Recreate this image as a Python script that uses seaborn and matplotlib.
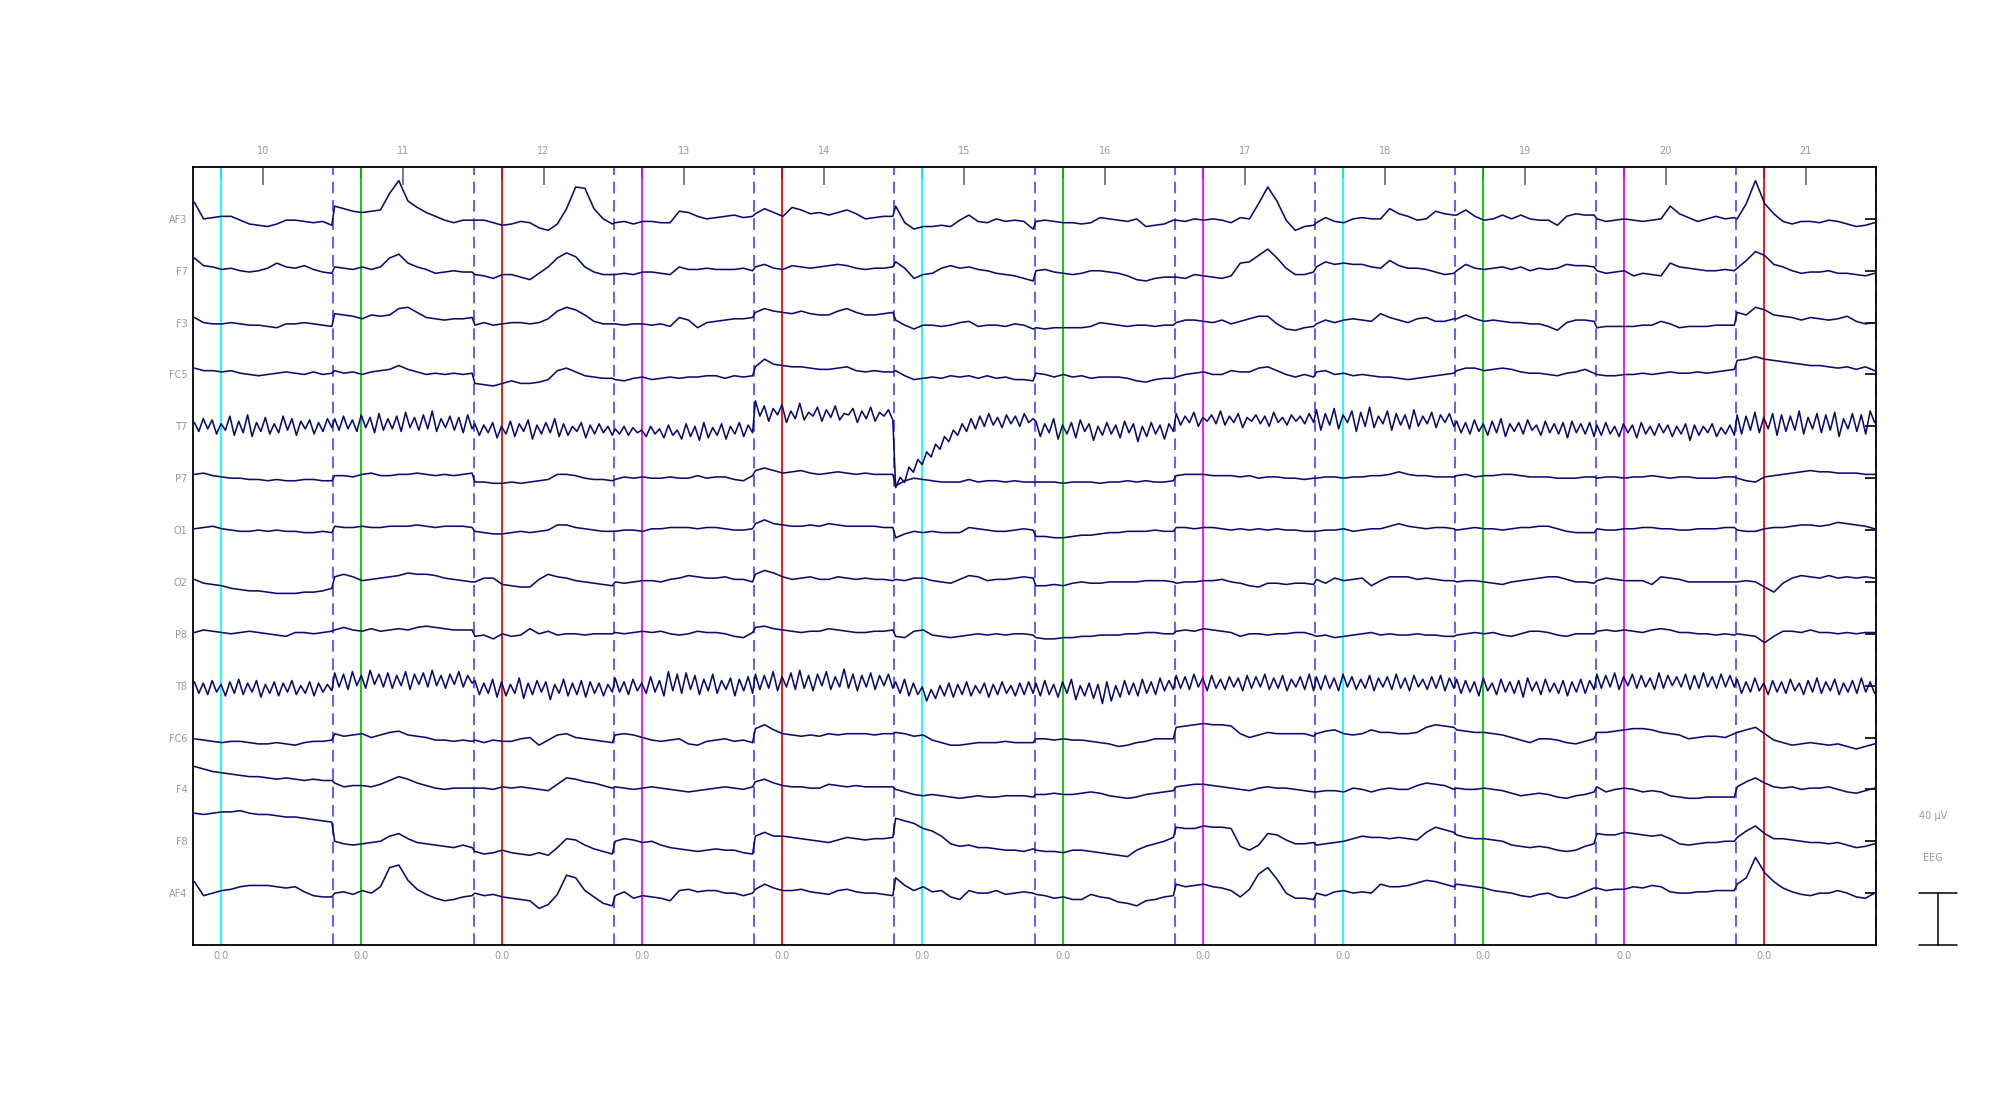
import numpy as np
import pandas as pd
import matplotlib
matplotlib.use("Agg")
import matplotlib.pyplot as plt
import seaborn as sns

# epoch plot: 14 channels x 12 epochs (values = offset from channel baseline)
CHANNELS = ["AF3", "F7", "F3", "FC5", "T7", "P7", "O1",
            "O2", "P8", "T8", "FC6", "F4", "F8", "AF4"]
EPOCH_LABELS = ["10", "11", "12", "13", "14", "15", "16", "17", "18", "19", "20", "21"]
EVENT_IDS = [1, 2, 3, 4, 3, 1, 2, 4, 1, 2, 4, 3]
EVENT_TICK_LABEL = "0.0"
TMIN, TMAX = -0.2, 0.8
SCALE_TEXT = ["40 µV", "EEG"]

AF3 = [
    [13, 0, 1, 2, 2, -1, -4, -5, -6, -4, -1, -1, -2, -3, -2, -5],
    [10, 8, 6, 5, 6, 7, 20, 30, 14, 9, 5, 2, -1, -3, -1, -1],
    [-1, -1, -3, -5, -4, -2, -3, -7, -9, -4, 8, 25, 24, 8, 0, -4],
    [-3, -2, -4, -2, -2, -3, -3, 6, 5, 2, 0, 1, 2, 3, 1, 2],
    [4, 8, 5, 2, 9, 7, 4, 5, 3, 5, 7, 4, 0, 1, 2, 2],
    [10, -3, -8, -6, -6, -5, -6, -1, 3, -2, -3, 0, -2, -1, -2, -8],
    [-2, -1, -2, -3, -3, -4, -3, 1, 0, -1, -2, 0, -6, -5, -4, -1],
    [-1, -2, 0, -1, 0, -1, -3, 1, 0, 12, 25, 14, -1, -9, -6, -5],
    [-3, 1, -2, -3, 0, 1, 0, 0, 8, 4, 2, -1, 0, 6, 4, 3],
    [3, 7, 2, -1, 0, 3, 0, 3, 0, -1, -1, -5, 2, 4, 3, 3],
    [0, -2, -1, 0, -1, -2, -1, 0, 10, 4, 1, -2, 0, 2, 0, 1],
    [0, 12, 30, 12, 4, -2, -4, -2, -2, -3, -1, -2, -4, -6, -5, -3],
]
F7 = [
    [10, 4, 3, 1, 2, 0, -1, 0, 2, 6, 3, 2, 4, 1, -1, -2],
    [3, 2, 1, 3, 1, 3, 10, 13, 6, 3, 1, -2, -1, 0, -1, -1],
    [-3, -4, -6, -3, -3, -5, -7, -2, 3, 10, 14, 11, 3, -1, -3, -3],
    [-3, -2, -3, -1, -1, -2, -3, 3, 1, 1, 2, 1, 1, 1, 2, 0],
    [3, 5, 2, 1, 4, 3, 2, 3, 4, 5, 4, 2, 1, 2, 2, 3],
    [7, 2, -6, -3, -2, 2, 4, 2, 3, 1, 0, -2, -3, -4, -6, -8],
    [0, 1, -1, -2, -3, -2, 0, 0, -1, -2, -4, -7, -8, -6, -5, -5],
    [-5, -6, -3, -4, -5, -6, -4, 6, 7, 12, 17, 10, 2, -3, -3, -1],
    [3, 7, 5, 6, 5, 5, 3, 2, 8, 4, 2, 2, 1, -1, -3, -2],
    [0, 5, 2, 1, 2, 3, 1, 3, 0, 2, 1, 2, 5, 4, 4, 3],
    [0, -2, -1, 0, -4, -2, -3, -4, 6, 3, 2, 1, 0, 0, 1, 0],
    [2, 8, 15, 12, 5, 3, 0, -2, -1, -1, 0, -2, -2, -3, -4, -2],
]
F3 = [
    [4, 0, -1, -1, 0, -1, -2, -2, -3, -4, -1, -1, 0, -1, -2, -3],
    [7, 6, 5, 3, 6, 5, 6, 11, 12, 8, 4, 3, 2, 3, 3, 4],
    [-2, 0, -2, -1, 0, 0, -1, 0, 3, 9, 12, 10, 6, 1, -1, -1],
    [-1, -2, -1, -1, -2, -1, -3, 4, 2, -4, 0, 1, 2, 3, 3, 4],
    [8, 11, 9, 8, 7, 9, 7, 6, 6, 9, 11, 8, 6, 6, 7, 8],
    [2, -2, -5, -2, -2, -3, -2, 0, 1, -3, -2, -2, -3, -1, -2, -5],
    [-4, -5, -4, -4, -4, -4, -3, 0, -1, -2, -3, -2, -2, -3, -2, -2],
    [0, 2, 2, 1, 0, 2, -1, 1, 3, 5, 5, -1, -5, -6, -4, -3],
    [-1, 2, 0, 2, 3, 2, 1, 7, 4, 2, 0, 3, 4, 1, 1, 3],
    [3, 6, 3, 1, 2, 1, 0, 0, -1, -1, -3, -6, 0, 2, 2, 1],
    [-4, -3, -3, -3, -3, -2, -2, 1, -1, -4, -3, -3, -3, -2, -2, -2],
    [8, 6, 12, 10, 6, 5, 4, 2, 4, 3, 2, 3, 5, 1, -1, 0],
]
FC5 = [
    [5, 3, 3, 2, 3, 1, 0, -1, 0, 1, 2, 1, 0, 2, 0, 1],
    [3, 1, 2, 0, 2, 3, 4, 7, 4, 2, 0, 1, 0, 1, 0, 1],
    [-7, -8, -9, -7, -5, -7, -7, -6, -4, 3, 5, 2, -1, -2, -3, -3],
    [-4, -5, -3, -2, -4, -3, -2, -3, -2, -2, -1, -1, -3, -1, -2, -1],
    [6, 12, 8, 7, 6, 6, 5, 4, 4, 5, 6, 3, 2, 3, 2, 2],
    [3, -1, -4, -3, -2, -3, -1, -2, -1, -3, -1, -3, -2, -4, -4, -5],
    [1, 0, -2, 0, -2, -1, -3, -2, -2, -2, -3, -5, -6, -4, -3, -3],
    [-2, 0, 1, 2, 0, 0, 3, 2, 2, 5, 6, 3, 0, -2, 0, -2],
    [2, 3, 0, 1, -1, 0, -1, -2, -2, -3, -4, -3, -2, -1, 0, 1],
    [3, 5, 5, 3, 4, 5, 4, 2, 1, 1, 0, -1, 1, 2, 4, 1],
    [0, -1, -1, 0, 0, 1, 0, 1, 2, 1, 1, 2, 1, 2, 3, 4],
    [11, 12, 14, 12, 11, 10, 9, 8, 7, 7, 6, 5, 6, 4, 6, 3],
]
T7 = [
    [3, -4, 6, -2, 5, -6, 2, -3, 8, -7, 4, -5, 9, -8, 3, -4, 7, -6, 2, -5, 8, -3, 6, -7, 4, -2, 5, -6, 3, -4, 6, -1],
    [6, -3, 8, -2, 5, -4, 9, -1, 7, -5, 10, -3, 6, -2, 8, -4, 11, -1, 7, -3, 9, -2, 12, -4, 6, -1, 8, -3, 7, -5, 9, -2],
    [2, -7, 1, -5, 3, -9, 0, -6, 4, -8, 2, -4, 5, -10, 1, -6, 3, -5, 6, -8, 2, -7, 0, -4, 3, -9, 1, -6, 2, -5, 0, -7],
    [-2, -6, 0, -7, -1, -5, -3, -8, 0, -6, -2, -9, 1, -7, -3, -10, 2, -8, 0, -11, 3, -9, -1, -7, 2, -10, 0, -6, 3, -8, 1, -5],
    [20, 8, 16, 4, 14, 9, 17, 3, 12, 6, 18, 5, 11, 8, 15, 4, 13, 7, 16, 5, 10, 9, 14, 3, 12, 6, 15, 4, 11, 8, 13, 5],
    [-48, -40, -44, -32, -36, -26, -30, -20, -24, -14, -18, -8, -12, -3, -7, 2, -4, 6, -2, 8, 0, 10, 1, 7, -1, 9, 2, 8, 0, 10, 3, 6],
    [4, -8, 2, -5, 6, -10, 1, -6, 3, -9, 5, -4, 2, -11, 0, -7, 3, -6, 1, -9, 4, -5, 2, -12, 0, -8, 3, -6, 1, -10, 2, -4],
    [10, 1, 8, 3, 11, 0, 7, 4, 9, 2, 12, 1, 8, 3, 10, -1, 7, 4, 9, 2, 8, 0, 11, 3, 7, 1, 9, 4, 8, 2, 10, 3],
    [13, -3, 10, 1, 14, -2, 9, 3, 12, -4, 11, 0, 15, -1, 8, 2, 12, -3, 10, 1, 9, -2, 13, 0, 8, 2, 11, -1, 9, 3, 10, 0],
    [4, -5, 3, -6, 5, -4, 2, -7, 4, -5, 6, -8, 2, -4, 3, -6, 5, -3, 1, -7, 4, -5, 2, -6, 3, -9, 4, -5, 2, -6, 3, -8],
    [1, -7, 3, -6, 0, -8, 2, -5, 1, -9, 3, -6, 0, -7, 2, -5, 1, -8, 0, -6, 2, -11, 1, -7, 0, -5, 2, -8, -1, -6, 1, -7],
    [9, -6, 8, -3, 11, -5, 7, -2, 10, -7, 9, -4, 8, -3, 12, -6, 7, -2, 10, -5, 9, -3, 11, -8, 6, -2, 10, -4, 9, -6, 12, 3],
]
P7 = [
    [3, 4, 2, 1, 0, 0, -1, -1, -2, -1, -2, -2, -1, -1, -2, -2],
    [2, 2, 1, 3, 4, 2, 2, 3, 3, 4, 3, 2, 3, 2, 3, 4],
    [-3, -3, -4, -4, -3, -4, -3, -2, -1, 3, 3, 2, 0, -1, -1, -2],
    [-1, 1, 0, 1, 0, 0, 1, 0, 0, 2, 0, 1, 1, -1, -2, 2],
    [6, 8, 6, 4, 5, 6, 4, 3, 4, 5, 4, 3, 4, 3, 3, 3],
    [-6, -2, 0, -1, -2, -3, -3, -3, -1, -3, -2, -2, -3, -2, -3, -3],
    [-3, -3, -3, -4, -3, -3, -3, -4, -3, -3, -2, -3, -2, -3, -3, -2],
    [2, 3, 3, 3, 2, 2, 2, 1, 2, 0, 1, 1, 0, 0, -1, 0],
    [0, 1, 1, 0, 1, 1, 2, 2, 3, 5, 3, 2, 2, 1, 1, 1],
    [2, 3, 1, 2, 2, 3, 3, 2, 1, 1, 1, 0, 0, 0, 1, 1],
    [0, 1, 1, 0, 1, 1, 2, 1, 0, 1, 1, 0, 0, 0, 1, 1],
    [0, -2, -3, 1, 2, 3, 4, 5, 6, 5, 5, 4, 4, 4, 3, 3],
]
O1 = [
    [1, 2, 3, 1, 0, -1, -1, 0, -1, 0, -1, -1, -2, -2, -1, -2],
    [3, 2, 2, 3, 2, 2, 3, 3, 3, 4, 3, 2, 3, 3, 3, 2],
    [-1, -2, -3, -3, -2, -1, -2, -1, 0, 4, 4, 2, 1, 0, -1, -1],
    [-1, 0, 0, -1, 1, 1, 2, 2, 2, 1, 2, 2, 1, 0, 0, 1],
    [5, 8, 5, 4, 3, 3, 4, 3, 5, 4, 3, 3, 3, 3, 2, 2],
    [-6, -3, -1, -2, -1, -2, -2, -2, 2, 1, 0, -1, -1, 0, 1, 0],
    [-5, -5, -6, -6, -5, -4, -4, -3, -2, -2, -1, -1, -1, 0, -1, -1],
    [2, 2, 1, 2, 2, 1, 0, 1, 0, 1, 0, 1, 0, 0, -1, -1],
    [-1, 0, 0, 1, -1, 0, 1, 1, 3, 5, 3, 2, 1, 2, 2, 1],
    [0, 1, 2, 1, 1, 0, 1, 2, 2, 3, 3, 1, -1, -2, -2, -2],
    [1, 0, 0, 1, 1, 2, 2, 1, 1, 0, 0, 1, 1, 1, 2, 2],
    [0, -1, -1, 1, 2, 2, 3, 4, 4, 3, 4, 6, 5, 4, 3, 1],
]
O2 = [
    [2, -1, -2, -3, -5, -6, -7, -7, -8, -9, -9, -9, -8, -8, -7, -5],
    [4, 6, 4, 1, 2, 3, 4, 5, 7, 6, 6, 5, 3, 2, 1, 0],
    [0, 3, 3, -2, -3, -4, -4, 2, 6, 4, 3, 1, 0, -1, -2, -3],
    [0, -1, 0, 1, 1, 0, 2, 3, 5, 4, 3, 3, 4, 2, 2, 0],
    [6, 9, 7, 4, 2, 3, 4, 2, 2, 4, 3, 2, 3, 2, 2, 1],
    [2, 1, 3, 3, 1, 0, -1, 2, 5, 4, 1, 2, 2, 3, 4, 3],
    [-3, -3, -2, -3, -1, 0, -1, -1, 0, 0, 0, 0, 1, 1, 1, 0],
    [-1, 0, 0, 1, 1, 2, 0, -1, -3, -4, -1, -1, -2, -1, -1, -2],
    [2, -1, 3, 1, 2, 3, -3, 1, 4, 4, 4, 2, 3, 2, 1, 1],
    [0, 1, 1, 0, -1, -2, 0, 1, 2, 3, 4, 4, 2, 0, 0, -1],
    [1, 3, 2, 1, 1, 1, -2, 4, 3, 2, 0, 0, 0, 0, 0, 0],
    [0, 1, 0, -4, -8, -1, 3, 5, 4, 3, 5, 3, 4, 3, 4, 3],
]
P8 = [
    [1, 3, 2, 1, 0, 1, 2, 1, 0, -1, -2, 1, 1, 0, 1, 2],
    [3, 5, 3, 2, 4, 2, 3, 4, 3, 5, 6, 5, 4, 3, 3, 3],
    [-2, -1, -4, 0, -2, -1, 4, 0, 2, -1, 0, 0, -1, 0, 0, 0],
    [1, 0, 1, 2, 1, 2, 0, -1, 0, 2, 1, 1, 0, -2, -3, 1],
    [5, 6, 4, 3, 2, 1, 2, 2, 4, 3, 2, 1, 1, 2, 2, 3],
    [-2, -3, 2, 3, -1, -2, -3, -2, -1, 0, -1, 0, -1, 0, 0, -1],
    [-3, -4, -4, -3, -3, -2, -2, -1, -1, -1, 0, 0, 1, 1, 0, 0],
    [2, 3, 2, 4, 3, 2, 1, -2, 0, 0, -1, 0, 0, 1, 1, -1],
    [-2, -1, -3, -2, -1, 0, 1, -1, 0, -1, -1, 0, -1, -1, -2, -2],
    [-1, 0, 1, 0, 1, -1, -2, 0, 2, 2, 1, -1, -2, 0, 0, 0],
    [2, 3, 2, 3, 2, 1, 3, 4, 3, 1, 1, 0, 0, -1, 0, -1],
    [0, -1, -2, -7, -2, 2, 2, 1, 3, 1, 1, 0, 1, 0, 1, 1],
]
T8 = [
    [3, -6, 2, -7, 4, -5, 1, -8, 3, -6, 5, -7, 2, -5, 4, -9, 1, -6, 3, -8, 2, -5, 4, -7, 0, -6, 3, -8, 2, -5, 1, -4],
    [10, -1, 9, -3, 11, 0, 8, -2, 12, 1, 9, -1, 10, -2, 8, 0, 11, -3, 9, 1, 10, -1, 12, 0, 8, -2, 9, 1, 11, -1, 8, 2],
    [4, -7, 2, -6, 5, -9, 3, -8, 1, -6, 6, -10, 2, -7, 4, -5, 3, -11, 1, -6, 5, -8, 2, -7, 4, -9, 3, -6, 2, -8, 1, -5],
    [6, -5, 3, -7, 5, -4, 2, -6, 7, -5, 4, -8, 11, -4, 9, -6, 10, -3, 8, -7, 5, -4, 9, -6, 4, -3, 6, -8, 5, -4, 7, -6],
    [9, -3, 8, -2, 11, -4, 7, -1, 10, -3, 12, -2, 8, -4, 9, 0, 11, -3, 7, -1, 13, -2, 9, -4, 8, -1, 10, -3, 8, 0, 9, -2],
    [3, -6, 5, -8, 2, -7, -1, -12, -3, -10, 0, -8, 2, -9, 1, -7, 3, -8, 0, -6, 2, -9, 1, -7, 3, -6, 0, -8, 2, -7, 3, -6],
    [2, -8, 4, -7, 1, -9, 3, -6, 5, -11, 0, -8, 2, -10, 1, -14, 3, -12, 0, -9, 4, -7, 2, -8, 5, -6, 3, -7, 6, -4, 4, -3],
    [8, -2, 7, -3, 9, -1, 6, -4, 8, -2, 5, -3, 7, -1, 6, -4, 8, -2, 7, -1, 9, -3, 6, -2, 8, -4, 5, -1, 7, -3, 9, -4],
    [7, -3, 8, -2, 6, -4, 9, -1, 7, -3, 5, -2, 8, -4, 6, -1, 7, -3, 9, -2, 6, -4, 8, -1, 5, -3, 7, -2, 8, -4, 6, -2],
    [5, -6, 4, -5, 3, -8, 6, -4, 2, -7, 5, -5, 3, -6, 4, -9, 6, -4, 3, -7, 5, -5, 2, -6, 4, -8, 3, -5, 5, -6, 4, -3],
    [9, -2, 8, -1, 10, -3, 7, 0, 9, -2, 8, -1, 6, -3, 10, -2, 8, 0, 7, -1, 9, -3, 8, -2, 10, -1, 7, -2, 9, -1, 8, -1],
    [5, -6, 3, -5, 6, -4, 2, -7, 4, -5, 3, -6, 5, -4, 2, -7, 4, -5, 6, -6, 3, -4, 5, -7, 2, -5, 4, -6, 6, -5, 3, -6],
]
FC6 = [
    [-1, -2, -3, -4, -3, -3, -4, -5, -5, -4, -5, -6, -4, -3, -3, -2],
    [3, 1, 2, 3, 0, 2, 4, 5, 2, 1, 0, -2, -2, -3, -2, -3],
    [-2, -4, -2, -3, -3, -1, 0, -6, -2, 2, 3, 0, -1, -2, -3, -4],
    [2, 3, 2, 0, -2, -3, -2, -1, -5, -6, -3, -2, -1, -3, -2, -4],
    [7, 10, 6, 3, 2, 1, 2, 1, 3, 2, 3, 3, 3, 2, 3, 3],
    [4, 3, 1, 2, -2, -4, -6, -6, -5, -4, -4, -4, -3, -4, -4, -4],
    [-1, -1, -2, -1, -2, -2, -3, -4, -5, -7, -6, -4, -3, -1, -1, -1],
    [8, 9, 10, 11, 10, 10, 9, 3, 0, 2, 4, 3, 3, 3, 3, 1],
    [3, 5, 6, 3, 2, 3, 6, 4, 4, 3, 3, 4, 8, 10, 9, 8],
    [6, 5, 4, 4, 3, 2, 0, -2, -4, -1, -1, -2, -4, -5, -3, -1],
    [4, 4, 5, 6, 7, 7, 6, 4, 3, 2, -1, 0, 1, 1, 0, 3],
    [4, 6, 8, 3, -2, -4, -6, -5, -4, -5, -6, -5, -7, -9, -7, -5],
]
F4 = [
    [18, 16, 14, 13, 12, 11, 10, 10, 9, 8, 9, 8, 7, 8, 7, 7],
    [5, 2, 3, 3, 2, 4, 7, 10, 8, 5, 3, 1, 0, 1, 1, 1],
    [1, 1, 0, 2, 1, 2, 1, 0, -1, 4, 9, 8, 6, 5, 3, 1],
    [2, 1, 0, 1, 2, 1, 0, -1, -2, -1, 0, 1, 2, 1, 0, 2],
    [6, 8, 5, 3, 2, 2, 1, 1, 4, 3, 2, 3, 2, 2, 2, 2],
    [0, -2, -4, -5, -4, -5, -6, -7, -6, -5, -6, -6, -5, -5, -5, -6],
    [-4, -4, -3, -4, -4, -3, -2, -3, -5, -6, -7, -6, -4, -3, -2, -1],
    [2, 3, 4, 4, 3, 2, 1, 0, -1, 1, 2, 1, 1, 0, -1, -2],
    [-2, -1, -1, -2, 1, 0, -2, 0, 1, 0, 0, 3, 5, 4, 3, 0],
    [1, 0, 0, 1, 0, -1, -3, -5, -4, -3, -4, -6, -7, -5, -4, -2],
    [2, -2, 0, 1, 0, -2, -1, -2, -5, -6, -7, -7, -6, -6, -6, -6],
    [2, 6, 9, 5, 2, 1, 2, 0, 1, 1, 2, 0, -2, -3, -1, 1],
]
F8 = [
    [22, 21, 22, 23, 23, 24, 22, 21, 21, 20, 19, 19, 18, 17, 16, 15],
    [0, -2, -3, -2, -1, 0, 4, 6, 2, -1, -2, -3, -4, -5, -3, -5],
    [-8, -10, -9, -7, -9, -10, -11, -9, -11, -5, 2, 1, -3, -6, -8, -10],
    [0, 2, 1, -1, 0, -3, -5, -6, -7, -8, -7, -6, -7, -7, -9, -10],
    [4, 7, 4, 4, 3, 2, 1, 0, -1, 1, 3, 2, 1, 2, 2, 3],
    [18, 16, 14, 10, 8, 4, -2, -4, -3, -5, -5, -6, -7, -7, -8, -6],
    [-7, -8, -8, -9, -7, -7, -8, -9, -10, -11, -12, -7, -4, -2, 0, 3],
    [11, 10, 10, 12, 11, 11, 10, -4, -7, -3, 6, 5, 1, -2, -2, -1],
    [-3, -2, -1, 0, 2, 4, 3, 3, 2, 3, 2, 1, 7, 11, 9, 7],
    [5, 3, 2, 2, 1, 0, -3, -4, -5, -4, -5, -7, -8, -7, -4, -2],
    [6, 5, 5, 7, 6, 5, 4, 5, 2, -2, -3, -2, -1, -1, 0, 0],
    [3, 8, 12, 6, 2, 2, 1, 0, -1, -1, -2, -1, -3, -5, -4, -2],
]
AF4 = [
    [9, -2, 0, 2, 3, 5, 6, 6, 6, 5, 4, 5, 1, -2, -3, -3],
    [0, 1, -1, 2, 0, 5, 20, 22, 10, 3, -1, -4, -6, -5, -3, -2],
    [0, -2, -1, -3, -4, -5, -6, -12, -9, -1, 14, 12, 2, -3, -8, -10],
    [-2, 1, -4, -2, -3, -4, -6, 2, 3, 1, 2, 2, 0, 0, -2, 0],
    [3, 7, 4, 2, 2, 3, 1, 0, -1, 2, 3, 1, 0, 0, -1, -2],
    [12, 6, 2, 5, 1, 2, -3, -5, 2, 0, 0, 2, -1, 0, 1, 0],
    [-1, -2, -4, -3, -5, -5, -1, -3, -4, -7, -8, -10, -6, -5, -3, -2],
    [7, 5, 6, 7, 5, 4, 2, -3, 3, 15, 20, 11, 0, -4, -4, -5],
    [0, -2, 1, 2, 0, 1, 0, 7, 5, 5, 6, 8, 10, 9, 7, 5],
    [7, 6, 5, 4, 2, 1, 0, -2, -3, -1, 0, -3, -4, -2, 1, 4],
    [4, 2, 3, 3, 5, 4, 6, 5, 1, 0, 0, 1, 1, 2, 2, 2],
    [7, 12, 28, 16, 9, 4, 1, -1, -2, 0, 0, 2, 0, -3, -4, 0],
]

TRACES = [AF3, F7, F3, FC5, T7, P7, O1, O2, P8, T8, FC6, F4, F8, AF4]

EVENT_COLORS = {1: "#00ffff", 2: "#00c800", 3: "#ff0000", 4: "#ff00ff"}
TRACE_COLOR = "#0b0b6e"
LABEL_COLOR = "#9a9a9a"


def build_frame():
    n_ch = len(CHANNELS)
    spacing = 610 / (n_ch + 1)
    rows = []
    for k, (name, epochs) in enumerate(zip(CHANNELS, TRACES)):
        base = 610 - spacing * (k + 1)
        for e, vals in enumerate(epochs):
            frac = np.linspace(0.01, 0.99, len(vals))
            for f, v in zip(frac, vals):
                rows.append({"x": e + f, "y": base + v, "channel": name})
    return pd.DataFrame(rows), spacing


def main():
    sns.set_style("white")
    plt.rcParams["font.family"] = ["DejaVu Sans"]
    df, spacing = build_frame()
    n_ep = len(EPOCH_LABELS)
    ev_frac = -TMIN / (TMAX - TMIN)

    fig = plt.figure(figsize=(20, 11.12), dpi=100)
    ax = fig.add_axes([0.0965, 0.1502, 0.8415, 0.6996])

    for e in range(1, n_ep + 1):
        ax.axvline(e, color="#3030ff", lw=1.2, dashes=(7, 4), alpha=0.9, zorder=1)
    for e, eid in enumerate(EVENT_IDS):
        ax.axvline(e + ev_frac, color=EVENT_COLORS[eid], lw=1.3, zorder=1)

    sns.lineplot(data=df, x="x", y="y", units="channel", estimator=None,
                 sort=False, color=TRACE_COLOR, lw=1.15, ax=ax, zorder=3)

    ax.set_xlim(0, n_ep)
    ax.set_ylim(0, 610)
    ax.set_xlabel("")
    ax.set_ylabel("")

    bases = [610 - spacing * (k + 1) for k in range(len(CHANNELS))]
    ax.set_yticks(bases)
    ax.set_yticklabels(CHANNELS, fontsize=7, color=LABEL_COLOR)
    ax.set_xticks([e + ev_frac for e in range(n_ep)])
    ax.set_xticklabels([EVENT_TICK_LABEL] * n_ep, fontsize=7, color=LABEL_COLOR)
    ax.tick_params(axis="both", direction="in", length=8, width=1.2,
                   color="black", top=True, right=True, pad=4)

    top = ax.secondary_xaxis("top")
    top.set_xticks([e + 0.5 for e in range(n_ep)])
    top.set_xticklabels(EPOCH_LABELS, fontsize=7, color=LABEL_COLOR)
    top.tick_params(direction="in", length=13, width=1.2, color="#666666", pad=8)
    top.spines["top"].set_visible(False)

    for sp in ax.spines.values():
        sp.set_color("black")
        sp.set_linewidth(1.3)

    # scale bar on the right
    xb0, xb1 = n_ep + 0.307, n_ep + 0.578
    xc = (xb0 + xb1) / 2
    ax.plot([xb0, xb1], [0, 0], color="black", lw=1.1, clip_on=False)
    ax.plot([xb0, xb1], [spacing, spacing], color="black", lw=1.1, clip_on=False)
    ax.plot([xc, xc], [0, spacing], color="black", lw=1.1, clip_on=False)
    ax.text(xb0, 101, SCALE_TEXT[0], fontsize=7, color=LABEL_COLOR,
            ha="left", va="center", clip_on=False)
    ax.text(xb0 + 0.03, 68, SCALE_TEXT[1], fontsize=7, color=LABEL_COLOR,
            ha="left", va="center", clip_on=False)

    fig.savefig("out.png", dpi=100)
    plt.close(fig)


if __name__ == "__main__":
    main()
